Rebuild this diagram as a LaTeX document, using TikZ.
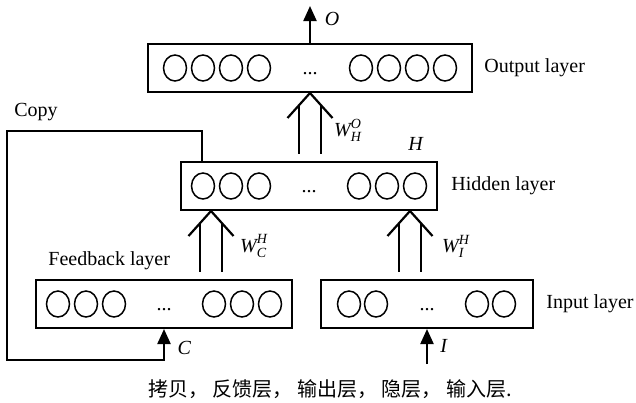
\documentclass[tikz,border=0pt]{standalone}
\usepackage{fontspec}
\setmainfont{Liberation Serif}
\newfontfamily\cjk{Noto Sans CJK SC}
\usepackage{amsmath}
\usepackage{tikz}
\usetikzlibrary{shapes.geometric, arrows.meta, positioning, calc}

% double weight link: #1 source anchor, #2 apex on target
\newcommand{\wlink}[2]{%
  \draw[wire] ($(#2)+(-11.25pt,-12.5pt)$) -- (#2) -- ($(#2)+(11.25pt,-12.5pt)$);
  \draw[wire] ($(#2)+(-5.5pt,-6.1pt)$) -- ($(#2 |- #1)+(-5.5pt,3.5pt)$);
  \draw[wire] ($(#2)+(5.5pt,-6.1pt)$) -- ($(#2 |- #1)+(5.5pt,3.5pt)$);}

\begin{document}
\begin{tikzpicture}[x=0.5pt, y=-0.5pt,
  layerbox/.style={draw, line width=1pt, inner sep=0pt, minimum height=24pt},
  unit/.style={ellipse, draw, line width=0.75pt, inner sep=0pt, minimum width=11.5pt, minimum height=13pt},
  dots/.style={anchor=base, inner sep=0pt},
  lbl/.style={inner sep=1pt},
  wire/.style={line width=1.1pt},
  arr/.style={line width=1.1pt, -{Triangle[length=7.5pt, width=6.5pt]}}
]
  \useasboundingbox (0,0) rectangle (636,402);

  % Output layer
  \node[layerbox, minimum width=162pt] (out) at (310,68) {};
  \foreach \dx [count=\i] in {-135,-107,-79,-51,51,79,107,135}
    \node[unit] (o\i) at ([xshift=\dx*0.5pt]out.center) {};
  \node[dots] (od) at ([yshift=-3pt]out.center) {...};
  \node[lbl, right=4.5pt of out] (outlbl) {Output layer};

  % Hidden layer
  \node[layerbox, minimum width=128pt] (hid) at (309,186) {};
  \foreach \dx [count=\i] in {-106,-78,-50,50,78,106}
    \node[unit] (h\i) at ([xshift=\dx*0.5pt]hid.center) {};
  \node[dots] (hd) at ([yshift=-3pt]hid.center) {...};
  \node[lbl, right=5.5pt of hid] (hidlbl) {Hidden layer};
  \node[lbl] (hlbl) at ([xshift=-11pt, yshift=8.5pt]hid.north east) {\textit{H}};

  % Feedback layer
  \node[layerbox, minimum width=128pt] (fb) at (164,304) {};
  \foreach \dx [count=\i] in {-106,-78,-50,50,78,106}
    \node[unit] (f\i) at ([xshift=\dx*0.5pt]fb.center) {};
  \node[dots] (fd) at ([yshift=-3pt]fb.center) {...};
  \node[lbl, above right=3.5pt and 5.5pt of fb.north west] (fblbl) {Feedback layer};

  % Input layer
  \node[layerbox, minimum width=106pt] (inp) at (427,304) {};
  \foreach \dx [count=\i] in {-78,-51,50,77}
    \node[unit] (i\i) at ([xshift=\dx*0.5pt]inp.center) {};
  \node[dots] (id) at ([yshift=-3pt]inp.center) {...};
  \node[lbl, right=5pt of inp] (inplbl) {Input layer};

  % Weights
  \coordinate (ca) at ([xshift=15.5pt]hid.south west);
  \coordinate (ia) at ([xshift=-14pt]hid.south east);
  \wlink{hid.north}{out.south}
  \wlink{fb.north}{ca}
  \wlink{inp.north}{ia}
  \node[lbl] (who) at ([xshift=19pt, yshift=-18.5pt]out.south) {$\textit{W}_{\textit{H}}^{\textit{O}}$};
  \node[lbl] (wch) at ([xshift=21.5pt, yshift=-17.5pt]ca) {$\textit{W}_{\textit{C}}^{\textit{H}}$};
  \node[lbl] (wih) at ([xshift=23pt, yshift=-17.5pt]ia) {$\textit{W}_{\textit{I}}^{\textit{H}}$};

  % In and out
  \coordinate[above=18.5pt of out.north] (otop);
  \draw[arr] (out.north) -- (otop);
  \node[lbl] (olbl) at ([xshift=11pt, yshift=-6.5pt]otop) {\textit{O}};
  \coordinate[below=17.5pt of inp.south] (ibot);
  \draw[arr] (ibot) -- (inp.south);
  \node[lbl] (ilbl) at ([xshift=8.5pt, yshift=-8.5pt]inp.south) {\textit{I}};

  % Copy loop
  \coordinate (ctl) at (7,131);
  \coordinate (cbl) at (7,360);
  \draw[arr] ([xshift=11pt]hid.north west) |- (ctl) -- (cbl) -| (fb.south);
  \node[lbl, above right=4pt and 2.5pt of ctl] (cpy) {Copy};
  \node[lbl] (clbl) at ([xshift=10.25pt, yshift=-9.5pt]fb.south) {\textit{C}};

  % Caption
  \node[font=\cjk] (cap) at (330,389) {拷贝，\ 反馈层，\ 输出层，\ 隐层，\ 输入层.};
\end{tikzpicture}
\end{document}
